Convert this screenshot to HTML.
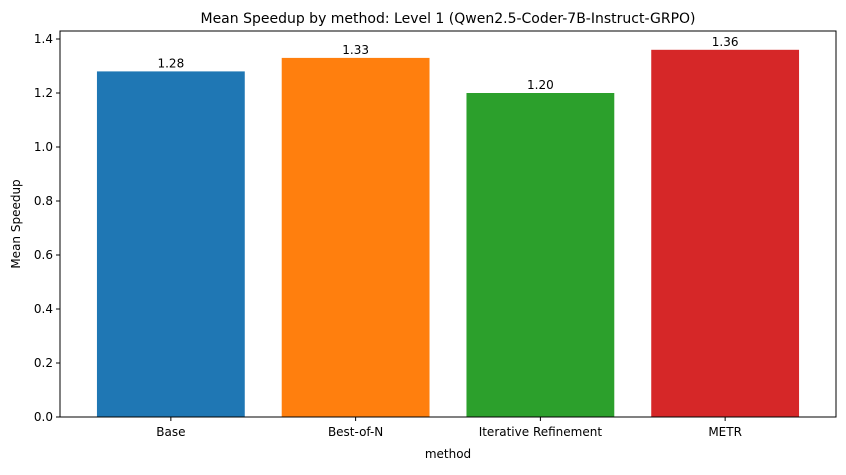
<!DOCTYPE html>
<html><head><meta charset="utf-8"><style>
body{margin:0;background:#fff;}
svg text{font-family:"DejaVu Sans","Liberation Sans",sans-serif;fill:#000;}
</style></head><body>
<svg width="846" height="470" xmlns="http://www.w3.org/2000/svg">
<text x="448" y="23" font-size="14" text-anchor="middle">Mean Speedup by method: Level 1 (Qwen2.5-Coder-7B-Instruct-GRPO)</text>
<g id="plot"></g>
<text x="448" y="458" font-size="12" text-anchor="middle">method</text>
<text transform="translate(20,224) rotate(-90)" font-size="12" text-anchor="middle">Mean Speedup</text>
</svg>
<script>
const categories=["Base","Best-of-N","Iterative Refinement","METR"];
const values=[1.28,1.33,1.20,1.36];
const labels=["1.28","1.33","1.20","1.36"];
const colors=["#1f77b4","#ff7f0e","#2ca02c","#d62728"];
const yTicks=[0,0.2,0.4,0.6,0.8,1.0,1.2,1.4];
const L=60,R=836,T=31,B=417;
const x=i=>L+(i+0.6)/4.2*(R-L);
const y=v=>B-v/1.4*(B-39);
const bw=0.8/4.2*(R-L);
const g=document.getElementById('plot');
const NS="http://www.w3.org/2000/svg";
function mk(t,a){const e=document.createElementNS(NS,t);for(const k in a)e.setAttribute(k,a[k]);g.appendChild(e);return e;}
categories.forEach((c,i)=>{
 const r=mk('rect',{x:x(i)-bw/2,y:y(values[i]),width:bw,height:B-y(values[i]),fill:colors[i]});
 
 
 const t=mk('text',{x:x(i),y:y(values[i])-4,'font-size':12,'text-anchor':'middle'});t.textContent=labels[i];
 
 
 const tk=mk('line',{x1:x(i),x2:x(i),y1:B,y2:B+4,stroke:'#000'});
 
 
 const tl=mk('text',{x:x(i),y:B+19,'font-size':12,'text-anchor':'middle'});tl.textContent=c;
 
 
});
yTicks.forEach(v=>{
 const tk=mk('line',{x1:L-4,x2:L,y1:y(v),y2:y(v),stroke:'#000'});
 
 
 const tl=mk('text',{x:L-7,y:y(v)+4,'font-size':12,'text-anchor':'end'});tl.textContent=v.toFixed(1);
 
 
});
const f=mk('rect',{x:L,y:T,width:R-L,height:B-T,fill:'none',stroke:'#000','stroke-width':1});


</script>
</body></html>
